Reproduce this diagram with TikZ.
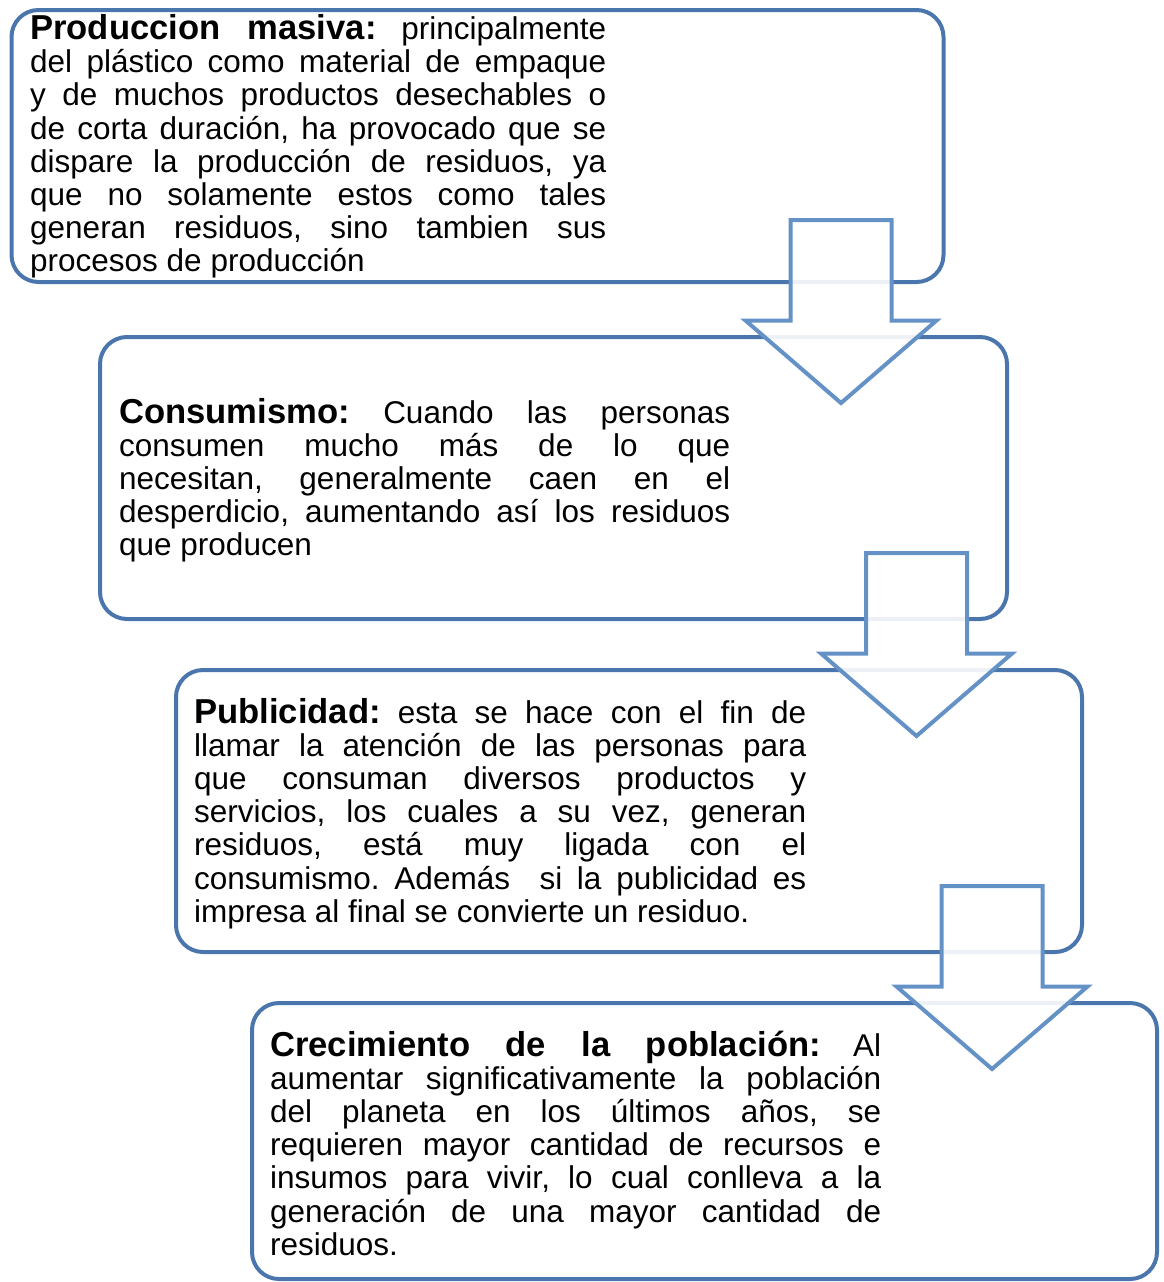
\documentclass[tikz,border=0pt]{standalone}
\usepackage{fontspec}
\setmainfont{Liberation Sans}
\frenchspacing
\usetikzlibrary{positioning}
\definecolor{boxblue}{HTML}{4A76AD}
\definecolor{arrblue}{HTML}{6592C6}
\newcommand\lead[1]{{\fontsize{34.6pt}{33.2pt}\selectfont\bfseries #1}}
\tikzset{
  stepbox/.style={draw=boxblue, line width=4pt, rounded corners=27pt, fill=none},
  boxtext/.style={anchor=base west, inner sep=0pt, align=justify,
    font=\fontsize{31.5pt}{33.2pt}\selectfont\frenchspacing},
  blockarrow/.style={draw=arrblue, line width=4pt, fill=white, fill opacity=0.9, line join=miter}
}
\newcommand\mydownarrow[1]{%
  \begin{scope}[shift={(#1)}]
    \draw[blockarrow] (-50.5,0) -- (50.5,0) -- (50.5,100.5) -- (95.5,100.5)
      -- (0,183) -- (-95.5,100.5) -- (-50.5,100.5) -- cycle;
  \end{scope}}
\begin{document}
\begin{tikzpicture}[x=1pt,y=-1pt]
\useasboundingbox (0,0) rectangle (1164,1282);
% boxes
\node[stepbox, minimum width=932pt, minimum height=272pt] (b1) at (477.5,146) {};
\node[stepbox, minimum width=907pt, minimum height=282pt] (b2) at (553.5,478) {};
\node[stepbox, minimum width=906pt, minimum height=282pt] (b3) at (629,811) {};
\node[stepbox, minimum width=905pt, minimum height=276pt] (b4) at (704.5,1141) {};
% texts
\node[boxtext, text width=576pt] (t1) at (30,39.5) {\lead{Produccion  masiva:} principalmente\linebreak
del plástico como material de empaque\linebreak
y de muchos productos desechables o\linebreak
de corta duración, ha provocado que se\linebreak
dispare la producción de residuos, ya\linebreak
que no solamente estos como tales\linebreak
generan residuos, sino tambien sus\linebreak
procesos de producción};
\node[boxtext, text width=611pt] (t2) at (119,423) {\lead{Consumismo:} Cuando las personas\linebreak
consumen mucho más de lo que\linebreak
necesitan, generalmente caen en el\linebreak
desperdicio, aumentando así los residuos\linebreak
que producen};
\node[boxtext, text width=612pt] (t3) at (194,723) {\lead{Publicidad:} esta se hace con el fin de\linebreak
llamar la atención de las personas para\linebreak
que consuman diversos productos y\linebreak
servicios, los cuales a su vez, generan\linebreak
residuos, está muy ligada con el\linebreak
consumismo. Además\ \ si la publicidad es\linebreak
impresa al final se convierte un residuo.};
\node[boxtext, text width=611pt] (t4) at (270,1056) {\lead{Crecimiento de la población:} Al\linebreak
aumentar significativamente la población\linebreak
del planeta en los últimos años, se\linebreak
requieren mayor cantidad de recursos e\linebreak
insumos para vivir, lo cual conlleva a la\linebreak
generación de una mayor cantidad de\linebreak
residuos.};
% block arrows
\mydownarrow{841,220}
\mydownarrow{916.5,553}
\mydownarrow{992,886}
\end{tikzpicture}
\end{document}
